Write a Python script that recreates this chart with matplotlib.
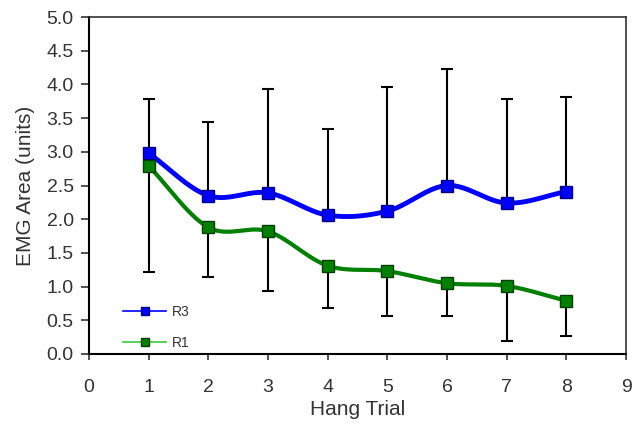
import numpy as np
import matplotlib
matplotlib.use("Agg")
import matplotlib.pyplot as plt

plt.rcParams['font.family'] = ['Liberation Sans', 'DejaVu Sans']

# data
trials = [1, 2, 3, 4, 5, 6, 7, 8]
r3 = [2.98, 2.35, 2.39, 2.06, 2.12, 2.50, 2.24, 2.41]
r3_top = [3.78, 3.44, 3.93, 3.34, 3.96, 4.23, 3.79, 3.82]
r1 = [2.79, 1.88, 1.82, 1.31, 1.23, 1.05, 1.01, 0.79]
r1_bottom = [1.22, 1.14, 0.93, 0.68, 0.56, 0.56, 0.19, 0.27]


def smooth(x, y, n=30):
    # Catmull-Rom curve through the points, like Excel's smoothed line
    x = np.asarray(x, float)
    y = np.asarray(y, float)
    px = np.concatenate([[2 * x[0] - x[1]], x, [2 * x[-1] - x[-2]]])
    py = np.concatenate([[2 * y[0] - y[1]], y, [2 * y[-1] - y[-2]]])
    xs, ys = [], []
    t = np.linspace(0, 1, n)
    for i in range(1, len(px) - 2):
        for p, out in ((px, xs), (py, ys)):
            p0, p1, p2, p3 = p[i - 1], p[i], p[i + 1], p[i + 2]
            out.extend(0.5 * (2 * p1 + (-p0 + p2) * t
                              + (2 * p0 - 5 * p1 + 4 * p2 - p3) * t ** 2
                              + (-p0 + 3 * p1 - 3 * p2 + p3) * t ** 3))
    return xs, ys


fig = plt.figure(figsize=(6.33, 4.28), dpi=100)
ax = fig.add_axes([89 / 633, 1 - 354 / 428, 537 / 633, 337 / 428])

r3 = np.array(r3)
r1 = np.array(r1)
ax.errorbar(trials, r3, yerr=[np.zeros(8), np.array(r3_top) - r3], fmt='none',
            ecolor='black', elinewidth=1.5, capsize=4, capthick=1.5, zorder=1)
ax.errorbar(trials, r1, yerr=[r1 - np.array(r1_bottom), np.zeros(8)], fmt='none',
            ecolor='black', elinewidth=1.5, capsize=4, capthick=1.5, zorder=1)

sx, sy = smooth(trials, r3)
ax.plot(sx, sy, color='#0000ff', lw=3.5, zorder=2)
sx, sy = smooth(trials, r1)
ax.plot(sx, sy, color='#008000', lw=3, zorder=2)
ax.plot(trials, r3, 's', color='#0000ff', mec='#000080', ms=8.5, zorder=3)
ax.plot(trials, r1, 's', color='#008000', mec='#004000', ms=8.5, zorder=3)

# legend handles with thin lines
h3, = ax.plot([], [], '-s', color='#0000ff', mfc='#0000ff', mec='#000080', lw=1.2, ms=5.5)
h1, = ax.plot([], [], '-s', color='#33cc33', mfc='#008000', mec='#004000', lw=1.2, ms=5.5)
ax.legend([h3, h1], ['R3', 'R1'], loc='lower left', bbox_to_anchor=(0.04, -0.025),
          frameon=False, fontsize=10, handlelength=3.1, handletextpad=0.4,
          labelspacing=1.2, labelcolor='#333333')

ax.set_xlim(0, 9)
ax.set_ylim(0, 5)
ax.set_xticks(range(0, 10))
ax.set_yticks(np.arange(0, 5.01, 0.5))
ax.set_yticklabels([f'{v:.1f}' for v in np.arange(0, 5.01, 0.5)])
ax.tick_params(axis='y', direction='out', length=6, width=1.2,
               labelsize=14, labelcolor='#333333', colors='#333333', pad=5)
ax.tick_params(axis='x', direction='out', length=4, width=1.2,
               labelsize=14, labelcolor='#333333', colors='#333333', pad=14)
for side in ['left', 'bottom']:
    ax.spines[side].set_linewidth(1.5)
    ax.spines[side].set_color('black')
for side in ['top', 'right']:
    ax.spines[side].set_linewidth(1.2)
    ax.spines[side].set_color('#333333')

ax.set_xlabel('Hang Trial', fontsize=15, color='#333333', labelpad=3)
ax.set_ylabel('EMG Area (units)', fontsize=15, color='#333333', labelpad=8)

fig.savefig('out.png', dpi=100)
